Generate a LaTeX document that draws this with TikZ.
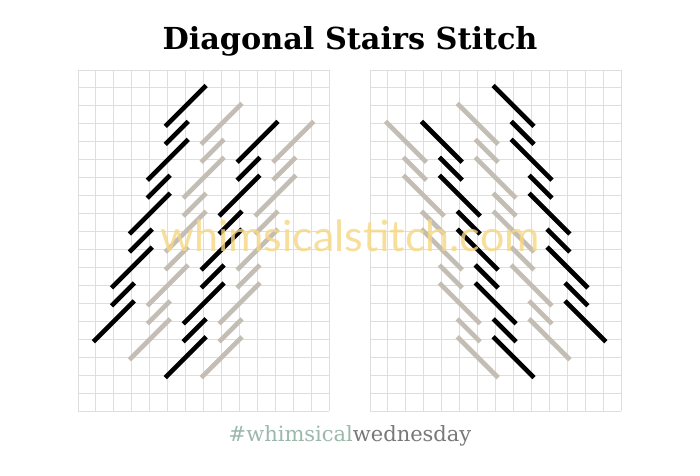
\documentclass[tikz,border=0pt]{standalone}
\usepackage{fontspec}
\newfontfamily\titlefont{DejaVu Serif}
\newfontfamily\markfont{Lato}
\definecolor{thread}{RGB}{196,189,180}
\definecolor{gridgray}{RGB}{222,222,222}
\definecolor{sage}{RGB}{156,184,172}
\definecolor{tagGray}{RGB}{120,120,120}
\definecolor{markyellow}{RGB}{246,216,130}

\begin{document}
\begin{tikzpicture}[x=1pt, y=-1pt]
\tikzstyle{gridline} = [draw=gridgray, line width=1pt]
\tikzstyle{stitch} = [line width=4.6pt, shorten <=-3.5pt, shorten >=-3.5pt]
\tikzstyle{dark} = [stitch, draw=black]
\tikzstyle{light} = [stitch, draw=thread]
\useasboundingbox (0,0) rectangle (700,475);
\fill[white] (0,0) rectangle (700,475);

\node (title) at (350,41) {\titlefont\bfseries\fontsize{30.3}{32}\selectfont Diagonal Stairs Stitch};

% left panel, then the same stitches mirrored on the right
\foreach \ox/\sx in {78/1, 621.3/-1}{
\begin{scope}[shift={(\ox,70)}, xscale=\sx, x=17.95pt, y=-17.95pt]
 \foreach \i in {0,...,14} \draw[gridline] (\i,0) -- (\i,19);
 \foreach \j in {0,...,19} \draw[gridline] (0,\j) -- (14,\j);
 % four columns of stairs: long over 2, short over 1
 \foreach \dx/\dy/\st in {0/0/dark, 4/2/dark, 2/1/light, 6/2/light}{
  \foreach \k in {0,...,4} \draw[\st] (5-\k+\dx, 3+3*\k+\dy) -- (7-\k+\dx, 1+3*\k+\dy);
  \foreach \k in {0,...,3} \draw[\st] (5-\k+\dx, 4+3*\k+\dy) -- (6-\k+\dx, 3+3*\k+\dy);
 }
\end{scope}
}

\node[text=markyellow, opacity=0.8] (mark) at (350,236) {\markfont\fontsize{43}{45}\selectfont whimsicalstitch.com};

\node (tag) at (350,436) {\titlefont\fontsize{21}{23}\selectfont\textcolor{sage}{\#whimsical}\textcolor{tagGray}{wednesday}};
\end{tikzpicture}
\end{document}
